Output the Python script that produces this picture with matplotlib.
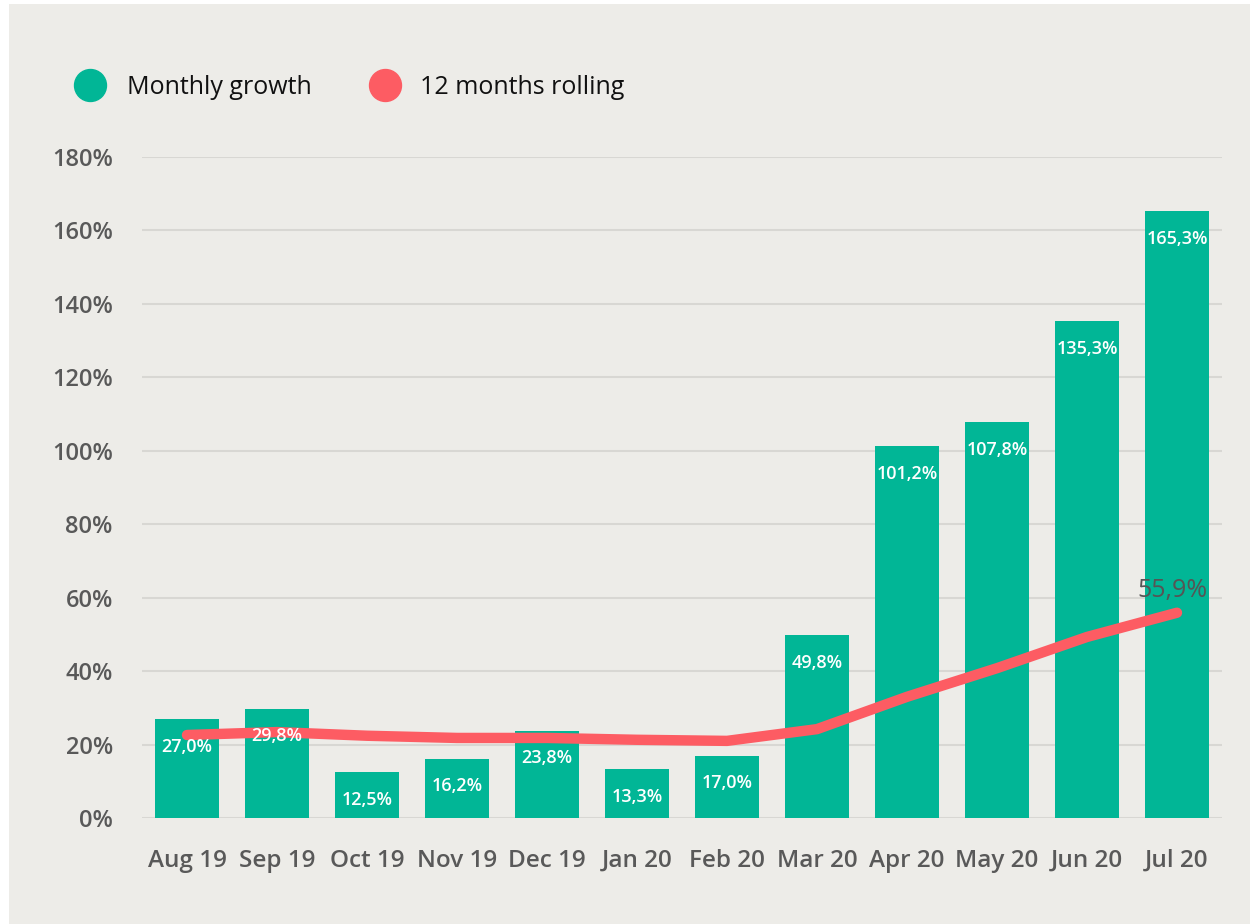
import matplotlib.pyplot as plt
from matplotlib.patches import Rectangle
from matplotlib.lines import Line2D

months = ['Aug 19', 'Sep 19', 'Oct 19', 'Nov 19', 'Dec 19', 'Jan 20',
          'Feb 20', 'Mar 20', 'Apr 20', 'May 20', 'Jun 20', 'Jul 20']
monthly_growth = [27.0, 29.8, 12.5, 16.2, 23.8, 13.3,
                  17.0, 49.8, 101.2, 107.8, 135.3, 165.3]
rolling_12m = [22.6, 23.4, 22.4, 21.8, 21.8, 21.3,
               21.0, 24.2, 33.0, 40.8, 49.3, 55.9]
y_ticks = [0, 20, 40, 60, 80, 100, 120, 140, 160, 180]

GREEN = '#01B696'
RED = '#FD5C63'
BG = '#EDECE8'
GREY = '#595959'

plt.rcParams['font.family'] = ['Open Sans', 'DejaVu Sans']

fig = plt.figure(figsize=(12.5, 9.24), dpi=100, facecolor='white')
fig.add_artist(Rectangle((9 / 1250, 0), 1, 1 - 4 / 924, transform=fig.transFigure,
                         facecolor=BG, edgecolor='none', zorder=-5))

ax = fig.add_axes([142 / 1250, 1 - 818 / 924, 1080 / 1250, 661 / 924])
ax.set_zorder(2)
ax.patch.set_alpha(0)

x = list(range(len(months)))
ax.bar(x, monthly_growth, width=0.72, color=GREEN, zorder=2)
for xi, v in zip(x, monthly_growth):
    ax.annotate(f'{v:.1f}%'.replace('.', ','), (xi, v), xytext=(0, -20),
                textcoords='offset points', ha='center', va='center',
                color='white', fontsize=13, fontweight=600, zorder=4)

ax.plot(x, rolling_12m, color=RED, lw=7.5, solid_capstyle='round',
        solid_joinstyle='round', zorder=3)
ax.annotate(f'{rolling_12m[-1]:.1f}%'.replace('.', ','), (x[-1], rolling_12m[-1]),
            xytext=(-3, 16), textcoords='offset points', ha='center', va='center',
            color='#555555', fontsize=18, zorder=4, annotation_clip=False)

ax.set_xlim(-0.5, len(months) - 0.5)
ax.set_ylim(0, 180)
ax.set_yticks(y_ticks)
ax.set_yticklabels([f'{t}%' for t in y_ticks])
ax.set_xticks(x)
ax.set_xticklabels(months)
ax.tick_params(axis='both', length=0, labelsize=17, labelcolor=GREY)
ax.tick_params(axis='x', labelsize=17.5)
ax.tick_params(axis='y', pad=21)
ax.tick_params(axis='x', pad=22)
for lab in ax.get_xticklabels() + ax.get_yticklabels():
    lab.set_fontweight(600)
ax.grid(axis='y', color='#D8D7D3', lw=1.5, zorder=1)
ax.set_axisbelow(True)
for s in ax.spines.values():
    s.set_visible(False)

# legend
legend_y = 1 - 85 / 924
fig.add_artist(Line2D([90 / 1250], [legend_y], marker='o', markersize=23,
                      color=GREEN, lw=0, transform=fig.transFigure))
fig.text(127 / 1250, legend_y - 2 / 924, 'Monthly growth', fontsize=18, va='center',
         ha='left', color='#111111')
fig.add_artist(Line2D([385 / 1250], [legend_y], marker='o', markersize=23,
                      color=RED, lw=0, transform=fig.transFigure))
fig.text(420 / 1250, legend_y - 2 / 924, '12 months rolling', fontsize=18, va='center',
         ha='left', color='#111111')

fig.savefig('out.png', dpi=100, facecolor=fig.get_facecolor())
